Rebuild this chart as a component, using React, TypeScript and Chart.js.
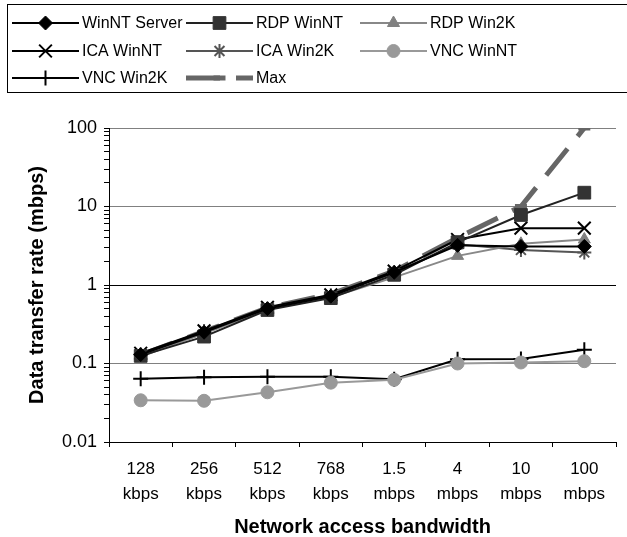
import React, { useEffect, useRef } from 'react';
import { Chart, registerables } from 'chart.js';
import { drawPoint } from 'chart.js/helpers';

Chart.register(...registerables);

const categories: string[][] = [
  ['128', 'kbps'], ['256', 'kbps'], ['512', 'kbps'], ['768', 'kbps'],
  ['1.5', 'mbps'], ['4', 'mbps'], ['10', 'mbps'], ['100', 'mbps'],
];

const winntServer = [0.13, 0.25, 0.5, 0.72, 1.45, 3.2, 3.1, 3.1];
const rdpWinNT = [0.125, 0.22, 0.48, 0.68, 1.35, 3.5, 7.8, 15];
const rdpWin2K = [0.125, 0.24, 0.49, 0.7, 1.25, 2.35, 3.35, 3.8];
const icaWinNT = [0.135, 0.26, 0.52, 0.75, 1.5, 3.8, 5.3, 5.3];
const icaWin2K = [0.13, 0.26, 0.5, 0.74, 1.45, 3.3, 2.8, 2.6];
const vncWinNT = [0.034, 0.0335, 0.043, 0.057, 0.062, 0.1, 0.103, 0.107];
const vncWin2K = [0.064, 0.067, 0.068, 0.068, 0.063, 0.113, 0.114, 0.15];
const maxRate = [0.128, 0.256, 0.512, 0.768, 1.5, 4, 10, 100];

const yTickValues = [0.01, 0.1, 1, 10, 100];
const yTickLabels = ['0.01', '0.1', '1', '10', '100'];

const FONT = '"Liberation Sans", Arial, sans-serif';

const isMajorValue = (v: number) => yTickValues.some((t) => Math.abs(t - v) / t < 1e-6);

const legendPlugin = {
  id: 'boxLegend',
  afterDraw(chart: any) {
    const ctx: CanvasRenderingContext2D = chart.ctx;
    ctx.save();
    ctx.strokeStyle = '#000';
    ctx.lineWidth = 1;
    ctx.setLineDash([]);
    ctx.strokeRect(7.5, 4.5, 680, 88);
    const colX = [12, 186, 360];
    const rowY = [23, 51, 78];
    chart.data.datasets.forEach((ds: any, i: number) => {
      const x0 = colX[i % 3];
      const y = rowY[Math.floor(i / 3)];
      const x1 = x0 + 67;
      ctx.beginPath();
      ctx.setLineDash(ds.borderDash || []);
      ctx.lineCap = 'butt';
      ctx.strokeStyle = ds.borderColor;
      ctx.lineWidth = ds.borderWidth;
      ctx.moveTo(x0, y);
      ctx.lineTo(x1, y);
      ctx.stroke();
      ctx.setLineDash([]);
      ctx.fillStyle = ds.pointBackgroundColor;
      ctx.strokeStyle = ds.pointBorderColor;
      ctx.lineWidth = ds.pointBorderWidth;
      drawPoint(ctx, { pointStyle: ds.pointStyle, radius: ds.pointRadius, rotation: 0, borderWidth: ds.pointBorderWidth } as any, (x0 + x1) / 2, y);
      ctx.fillStyle = '#000';
      ctx.font = '16px ' + FONT;
      ctx.textBaseline = 'middle';
      ctx.textAlign = 'left';
      ctx.fillText(ds.label, x1 + 3, y + 1);
    });
    ctx.restore();
  },
};

function series(label: string, data: number[], line: string, fill: string, style: string, radius: number, pbw: number, extra: any = {}) {
  return {
    label,
    data,
    borderColor: line,
    borderWidth: 2,
    pointStyle: style,
    pointRadius: radius,
    pointBackgroundColor: fill,
    pointBorderColor: fill,
    pointBorderWidth: pbw,
    fill: false,
    tension: 0,
    ...extra,
  };
}

export default function App() {
  const ref = useRef<HTMLCanvasElement | null>(null);
  useEffect(() => {
    document.body.style.margin = '0';
    if (!ref.current) return;
    const chart = new Chart(ref.current, {
      type: 'line',
      data: {
        labels: categories,
        datasets: [
          series('WinNT Server', winntServer, '#000', '#000', 'rectRot', 7, 1),
          series('RDP WinNT', rdpWinNT, '#222', '#333', 'rect', 9, 1),
          series('RDP Win2K', rdpWin2K, '#888', '#808080', 'triangle', 7, 1),
          series('ICA WinNT', icaWinNT, '#000', '#000', 'crossRot', 9, 2),
          series('ICA Win2K', icaWin2K, '#555', '#555', 'star', 7, 2),
          series('VNC WinNT', vncWinNT, '#999', '#999', 'circle', 6.5, 1),
          series('VNC Win2K', vncWin2K, '#000', '#000', 'cross', 7.5, 2),
          series('Max', maxRate, '#666', '#666', 'line', 6, 5, { borderWidth: 5, borderDash: [34, 16] }),
        ] as any,
      },
      options: {
        animation: false,
        responsive: false,
        maintainAspectRatio: false,
        layout: { padding: { top: 128, left: 0, right: 0, bottom: 0 } },
        plugins: { legend: { display: false }, tooltip: { enabled: false } },
        scales: {
          x: {
            type: 'category',
            offset: true,
            grid: { offset: true, drawOnChartArea: false, drawTicks: true, tickLength: 5, color: '#000' },
            border: { color: '#000', width: 1 },
            ticks: { font: { family: FONT, size: 17, lineHeight: '25px' }, color: '#000', padding: 10, maxRotation: 0, autoSkip: false },
            title: { display: true, text: 'Network access bandwidth', color: '#000', font: { family: FONT, size: 20, weight: 'bold', lineHeight: 1 }, padding: 0 },
            afterFit: (s: any) => { s.height = 95; },
          },
          y: {
            type: 'logarithmic',
            min: 0.01,
            max: 100,
            afterBuildTicks: (scale: any) => {
              const t: any[] = [];
              for (let e = -2; e <= 2; e++) {
                for (let s = 1; s <= 9; s++) {
                  const v = +(s * Math.pow(10, e)).toPrecision(3);
                  if (v > 100) break;
                  t.push({ value: v, major: s === 1 });
                }
              }
              scale.ticks = t;
            },
            grid: {
              drawTicks: true,
              tickLength: 5,
              lineWidth: 1,
              color: (c: any) => {
                const v = c.tick ? c.tick.value : 0;
                if (!isMajorValue(v)) return 'rgba(0,0,0,0)';
                return Math.abs(v - 1) < 1e-9 ? '#000' : '#808080';
              },
              tickColor: '#000',
            },
            border: { color: '#000', width: 1 },
            ticks: {
              autoSkip: false,
              color: '#000',
              padding: 7,
              font: { family: FONT, size: 18 },
              callback: (v: any) => {
                const idx = yTickValues.findIndex((t) => Math.abs(t - Number(v)) / t < 1e-6);
                return idx >= 0 ? yTickLabels[idx] : '';
              },
            },
            title: { display: true, text: 'Data transfer rate (mbps)', color: '#000', font: { family: FONT, size: 20, weight: 'bold', lineHeight: 1 }, padding: { top: 27, bottom: 0 } },
            afterFit: (s: any) => { s.width = 109; },
          },
        },
      } as any,
      plugins: [legendPlugin],
    });
    return () => chart.destroy();
  }, []);
  return (
    <div style={{ width: 627, height: 537, overflow: 'hidden' }}>
      <canvas ref={ref} width={627} height={537} style={{ display: 'block', width: 627, height: 537 }} />
    </div>
  );
}
